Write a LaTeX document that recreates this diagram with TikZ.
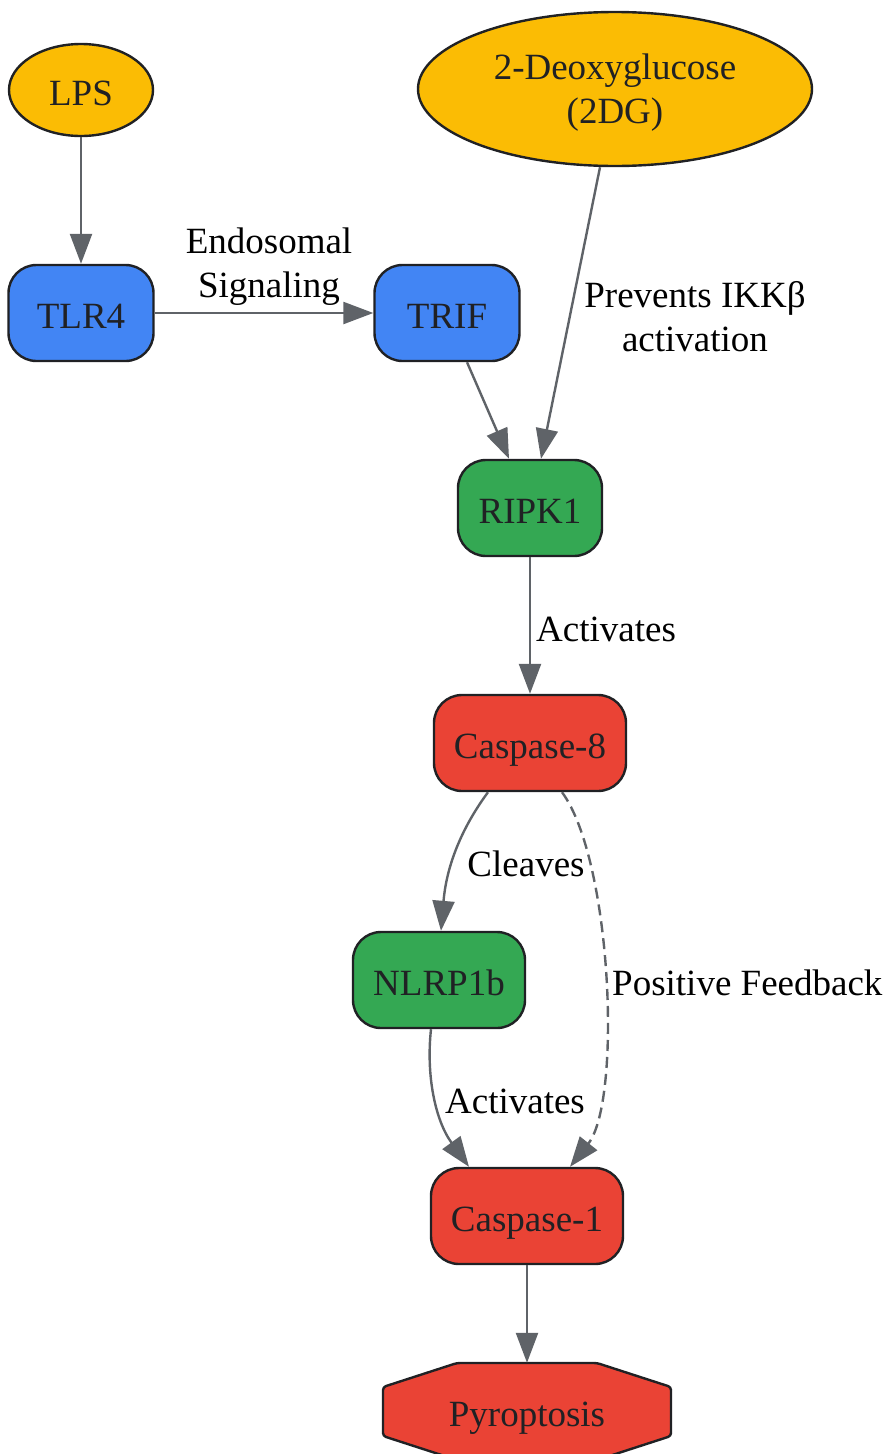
\documentclass[tikz,border=0pt]{standalone}
\usepackage{fontspec}
\setmainfont{Liberation Serif}
\usetikzlibrary{shapes.geometric,arrows.meta,calc}
\definecolor{cyel}{HTML}{FBBC04}
\definecolor{cblue}{HTML}{4285F4}
\definecolor{cgreen}{HTML}{34A853}
\definecolor{cred}{HTML}{EA4335}
\definecolor{cedge}{HTML}{5F6368}
\definecolor{cborder}{HTML}{202124}
\begin{document}
\begin{tikzpicture}[x=1pt,y=-1pt,
  every node/.style={font=\fontsize{37}{44}\selectfont},
  base/.style={draw=cborder,line width=2.4pt,text=cborder,inner sep=0pt},
  one/.style={text height=30pt,text depth=0pt},
  oval/.style={base,ellipse,fill=cyel},
  rbox/.style={base,one,rectangle,rounded corners=28pt,minimum height=96pt},
  edge/.style={draw=cedge,line width=2.4pt,-{Triangle[length=30pt,width=22pt]}},
  lbl/.style={text=black,align=center,inner sep=0pt}]
\useasboundingbox (0,0) rectangle (891,1454);
% nodes
\node[oval,one,minimum width=144pt,minimum height=92pt] (lps) at (81,90) {LPS};
\node[oval,minimum width=394pt,minimum height=154pt,align=center,text depth=0pt] (dg) at (615,89) {2-Deoxyglucose\\(2DG)};
\node[rbox,fill=cblue,minimum width=145pt] (tlr4) at (81,313) {TLR4};
\node[rbox,fill=cblue,minimum width=145pt] (trif) at (447,313) {TRIF};
\node[rbox,fill=cgreen,minimum width=144pt] (ripk1) at (530,508) {RIPK1};
\node[rbox,fill=cred,minimum width=192pt] (c8) at (530,743) {Caspase-8};
\node[rbox,fill=cgreen,minimum width=172pt] (nl) at (439,980) {NLRP1b};
\node[rbox,fill=cred,minimum width=192pt] (c1) at (527,1216) {Caspase-1};
% pyroptosis octagon
\coordinate (pc) at (527,1411.5);
\draw[base,fill=cred,rounded corners=3pt]
  ($(pc)+(-70,-48.5)$) -- ($(pc)+(70,-48.5)$) -- ($(pc)+(144,-24.5)$) -- ($(pc)+(144,24.5)$)
  -- ($(pc)+(70,48.5)$) -- ($(pc)+(-70,48.5)$) -- ($(pc)+(-144,24.5)$) -- ($(pc)+(-144,-24.5)$) -- cycle;
\node[one,text=cborder,inner sep=0pt,minimum width=288pt,minimum height=97pt] (py) at (pc) {Pyroptosis};
% edges
\draw[edge] (lps.south) -- (tlr4.north);
\draw[edge] (tlr4.east) -- (trif.west);
\node[lbl] (l1) at (269,267) {Endosomal\\Signaling};
\draw[edge] ([xshift=20pt]trif.south) -- ([xshift=-21pt]ripk1.north);
\draw[edge] ([xshift=-15pt]dg.south) -- ([xshift=11pt]ripk1.north);
\node[lbl] (l2) at (695,317) {Prevents IKKβ\\activation};
\draw[edge] (ripk1.south) -- (c8.north);
\node[lbl,anchor=west] (l3) at (536,629) {Activates};
\draw[edge] ([xshift=-42pt]c8.south) .. controls (466,822) and (447,860) .. ([xshift=2pt]nl.north);
\node[lbl] (l4) at (526,864) {Cleaves};
\draw[edge,dash pattern=on 11pt off 6pt] ([xshift=32pt]c8.south) .. controls (612,860) and (622,1101) .. ([xshift=43pt]c1.north);
\node[lbl,anchor=west] (l5) at (612,983) {Positive Feedback};
\draw[edge] ([xshift=-8pt]nl.south) .. controls (426,1075) and (435,1120) .. ([xshift=-58pt]c1.north);
\node[lbl] (l6) at (515,1101) {Activates};
\draw[edge] (c1.south) -- (py.north);
\end{tikzpicture}
\end{document}
